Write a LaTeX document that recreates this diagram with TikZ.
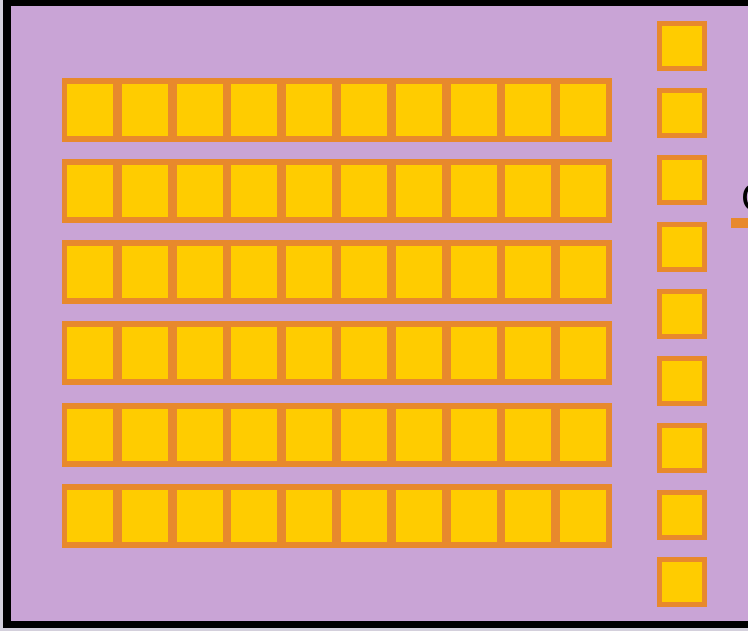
\documentclass[tikz,border=0pt]{standalone}
\usepackage{fontspec}
\setmainfont{Liberation Sans}
\definecolor{bgpurple}{HTML}{C9A4D6}
\definecolor{cellyellow}{HTML}{FFCC00}
\definecolor{cellorange}{HTML}{E8892C}
\definecolor{outergray}{HTML}{D4D0DC}
\tikzset{
  rowbar/.style={fill=cellorange},
  cellin/.style={fill=cellyellow},
  frame/.style={fill=black},
}
\begin{document}
\begin{tikzpicture}[x=1pt,y=-1pt]
\useasboundingbox (0,0) rectangle (748,631);
% background
\fill[outergray] (0,0) rectangle (748,631);
\fill[bgpurple] (8,4) rectangle (748,624);
% black frame
\fill[frame] (3,0) rectangle (748,6);
\fill[frame] (3,0) rectangle (11,628);
\fill[frame] (3,621) rectangle (748,628);
% rows of cells
\foreach \r/\t in {0/78,1/159,2/240,3/321,4/403,5/484}{
  \fill[rowbar] (62,\t) rectangle (612,\t+64);
  \foreach \k in {0,...,9}{
    \fill[cellin] (67+54.8*\k,\t+6) rectangle (113+54.8*\k,\t+58);
  }
}
% right column
\foreach \j in {0,...,8}{
  \fill[rowbar] (657,21+67*\j) rectangle (707,71+67*\j);
  \fill[cellin] (662,26+67*\j) rectangle (702,66+67*\j);
}
% partial text and dash at right edge
\node[anchor=west,inner sep=0pt,font=\fontsize{40}{40}\selectfont,text=black] (c) at (741,198) {C};
\fill[cellorange] (731,218) rectangle (750,228);
\end{tikzpicture}
\end{document}
